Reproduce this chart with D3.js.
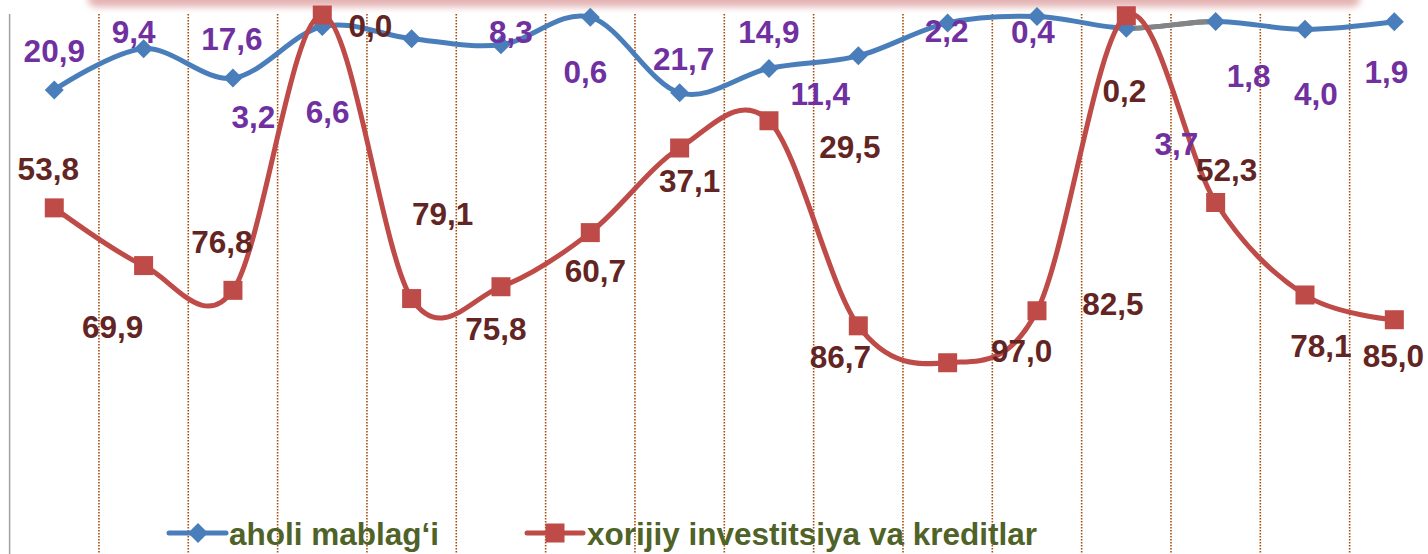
<!DOCTYPE html>
<html>
<head>
<meta charset="utf-8">
<script src="https://cdn.jsdelivr.net/npm/d3@7"></script>
<style>
body { margin: 0; background: #fff; }
text { font-family: "Liberation Sans", Arial, sans-serif; font-weight: bold; }
</style>
</head>
<body>
<div id="plothere"></div>
<script>
var categories = ["1", "2", "3", "4", "5", "6", "7", "8", "9", "10", "11", "12", "13", "14", "15", "16"];
var aholiValues = [20.9, 9.4, 17.6, 3.2, 6.6, 8.3, 0.6, 21.7, 14.9, 11.4, 2.2, 0.4, 3.7, 1.8, 4.0, 1.9];
var xorijiyValues = [53.8, 69.9, 76.8, 0.0, 79.1, 75.8, 60.7, 37.1, 29.5, 86.7, 97.0, 82.5, 0.2, 52.3, 78.1, 85.0];
var seriesNames = ["aholi mablag\u2018i", "xorijiy investitsiya va kreditlar"];
var grayFrom = 12; // segment 13->14 of the first series is grey in the original

// where each data label sits relative to its marker (dx, baseline dy), as moved by hand in the original
var aholiLabelShift = [[0,-28],[-10,-6],[-1,-28],[-69,102],[-84,84],[10,-2],[-5,66],[4,-23],
	[0,-25],[-38,49],[-1,19],[-4,27],[50,127],[33,66],[11,76],[-8,61]];
var xorijiyLabelShift = [[-6,-28],[-31,72],[-11,-37],[48,22],[31,-74],[-5,53],[5,49],[10,44],
	[81,37],[-18,42],[74,-1],[76,4],[-2,86],[11,-21],[16,62],[-1,47]];

var W = 1428, H = 554;
var blue = "#4a7ebb", red = "#be4b48";

var svg = d3.select("#plothere")
	.append("svg")
	.attr("width", W)
	.attr("height", H);

var defs = svg.append("defs");
defs.append("filter").attr("id", "soft")
	.attr("x", "-5%").attr("y", "-100%").attr("width", "110%").attr("height", "300%")
	.append("feGaussianBlur").attr("stdDeviation", 3.5);

// pink shape cut off at the top of the picture
svg.append("rect")
	.attr("x", 88).attr("y", -30)
	.attr("width", 1272).attr("height", 37)
	.attr("rx", 8)
	.style("fill", "#e4b3b3")
	.attr("filter", "url(#soft)");

var x = d3.scaleBand()
	.domain(categories)
	.range([9.6, 1439]);
var y = d3.scaleLinear()
	.domain([0, 100])
	.range([15, 373.5]);
function cx(i) { return x(categories[i]) + x.bandwidth() / 2; }

// dotted category separators
svg.append("g")
	.selectAll("line")
	.data(categories.slice(1))
	.enter()
	.append("line")
	.attr("x1", function(d) { return x(d); })
	.attr("x2", function(d) { return x(d); })
	.attr("y1", 14)
	.attr("y2", H)
	.style("stroke", "#a64d0c")
	.style("stroke-width", 1.6)
	.style("stroke-dasharray", "1.6,1.4");

svg.append("line")
	.attr("x1", x.range()[0]).attr("x2", x.range()[0])
	.attr("y1", 14).attr("y2", H)
	.style("stroke", "#a0a0a0")
	.style("stroke-width", 1.5);

var line = d3.line()
	.x(function(d, i) { return cx(i); })
	.y(function(d) { return y(d); })
	.curve(d3.curveCatmullRom.alpha(0));

function diamond(r) { return "M0," + (-r) + "L" + r + ",0L0," + r + "L" + (-r) + ",0Z"; }

// series 1
svg.append("path")
	.attr("d", line(aholiValues))
	.style("fill", "none")
	.style("stroke", blue)
	.style("stroke-width", 5)
	.style("stroke-linejoin", "round");

// grey piece of the same smooth curve
var k = grayFrom;
var p0 = [cx(k - 1), y(aholiValues[k - 1])], p1 = [cx(k), y(aholiValues[k])],
	p2 = [cx(k + 1), y(aholiValues[k + 1])], p3 = [cx(k + 2), y(aholiValues[k + 2])];
var gp = d3.path();
gp.moveTo(p1[0], p1[1]);
gp.bezierCurveTo(p1[0] + (p2[0] - p0[0]) / 6, p1[1] + (p2[1] - p0[1]) / 6,
	p2[0] - (p3[0] - p1[0]) / 6, p2[1] - (p3[1] - p1[1]) / 6, p2[0], p2[1]);
svg.append("path")
	.attr("d", gp.toString())
	.style("fill", "none")
	.style("stroke", "#848484")
	.style("stroke-width", 5);

svg.append("g")
	.selectAll("path")
	.data(aholiValues)
	.enter()
	.append("path")
	.attr("d", diamond(9.5))
	.attr("transform", function(d, i) { return "translate(" + cx(i) + "," + y(d) + ")"; })
	.style("fill", blue);

// series 2
svg.append("path")
	.attr("d", line(xorijiyValues))
	.style("fill", "none")
	.style("stroke", red)
	.style("stroke-width", 5)
	.style("stroke-linejoin", "round");

svg.append("g")
	.selectAll("rect")
	.data(xorijiyValues)
	.enter()
	.append("rect")
	.attr("x", function(d, i) { return cx(i) - 9.5; })
	.attr("y", function(d) { return y(d) - 9.5; })
	.attr("width", 19)
	.attr("height", 19)
	.style("fill", red);

// data labels
var fmt = function(v) { return d3.format(".1f")(v).replace(".", ","); };
function labels(vals, shift, color) {
	svg.append("g")
		.selectAll("text")
		.data(vals)
		.enter()
		.append("text")
		.attr("x", function(d, i) { return cx(i) + shift[i][0]; })
		.attr("y", function(d, i) { return y(d) + shift[i][1]; })
		.attr("text-anchor", "middle")
		.style("font-size", "31.5px")
		.style("fill", color)
		.text(fmt);
}
labels(aholiValues, aholiLabelShift, "#7030a0");
labels(xorijiyValues, xorijiyLabelShift, "#632523");

// legend
var leg = svg.append("g");
leg.append("line").attr("x1", 169).attr("x2", 226).attr("y1", 533).attr("y2", 533)
	.style("stroke", blue).style("stroke-width", 5).style("stroke-linecap", "round");
leg.append("path").attr("d", diamond(10)).attr("transform", "translate(198,533)").style("fill", blue);
leg.append("text").attr("x", 229).attr("y", 545).style("font-size", "31.5px").style("fill", "#4f6228")
	.text(seriesNames[0]);
leg.append("line").attr("x1", 527).attr("x2", 583).attr("y1", 533).attr("y2", 533)
	.style("stroke", red).style("stroke-width", 5).style("stroke-linecap", "round");
leg.append("rect").attr("x", 545.5).attr("y", 523.5).attr("width", 19).attr("height", 19).style("fill", red);
leg.append("text").attr("x", 587).attr("y", 545).style("font-size", "31.5px").style("fill", "#4f6228")
	.text(seriesNames[1]);
</script>
</body>
</html>
